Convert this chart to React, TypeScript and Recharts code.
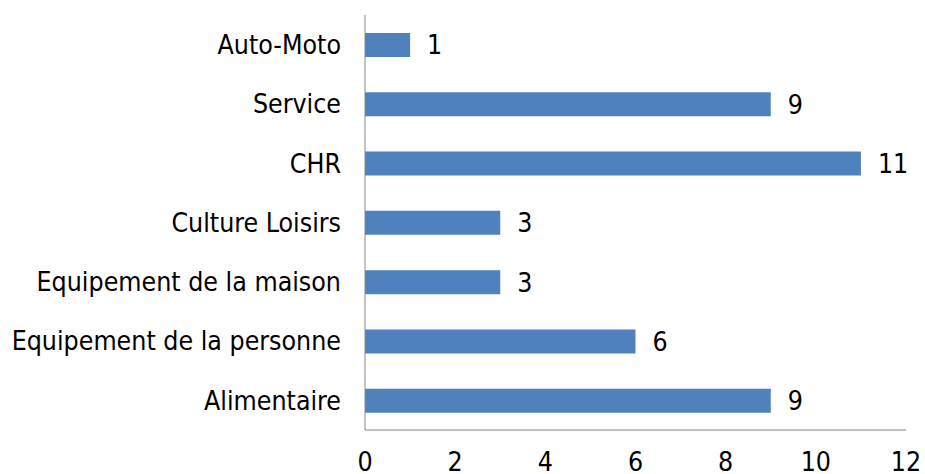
import { Bar, BarChart, LabelList, XAxis, YAxis } from "recharts";

const categories = [
  "Auto-Moto",
  "Service",
  "CHR",
  "Culture Loisirs",
  "Equipement de la maison",
  "Equipement de la personne",
  "Alimentaire",
];
const counts = [1, 9, 11, 3, 3, 6, 9];
const xTicks = [0, 2, 4, 6, 8, 10, 12];

const data = categories.map((name, i) => ({ name, value: counts[i] }));

const font = "'DejaVu Sans Condensed', 'DejaVu Sans', sans-serif";

export default function App() {
  return (
    <div style={{ position: "absolute", left: 0, top: 0, background: "#fff" }}>
      <BarChart
        width={925}
        height={474}
        data={data}
        layout="vertical"
        margin={{ top: 15, right: 19, left: 0, bottom: 0 }}
        barSize={24}
      >
        <XAxis
          type="number"
          domain={[0, 12]}
          ticks={xTicks}
          height={44}
          tickLine={false}
          tickSize={0}
          tickMargin={22}
          stroke="#868686"
          tick={{ fill: "#000", fontSize: 26.5, fontFamily: font }}
        />
        <YAxis
          type="category"
          dataKey="name"
          width={365}
          tickLine={false}
          tickSize={0}
          tickMargin={24}
          interval={0}
          stroke="#868686"
          tick={{ fill: "#000", fontSize: 26.5, fontFamily: font }}
        />
        <Bar dataKey="value" fill="#4F81BD" isAnimationActive={false}>
          <LabelList
            dataKey="value"
            position="right"
            offset={17}
            style={{ fill: "#000", fontSize: 26.5, fontFamily: font }}
          />
        </Bar>
      </BarChart>
    </div>
  );
}
